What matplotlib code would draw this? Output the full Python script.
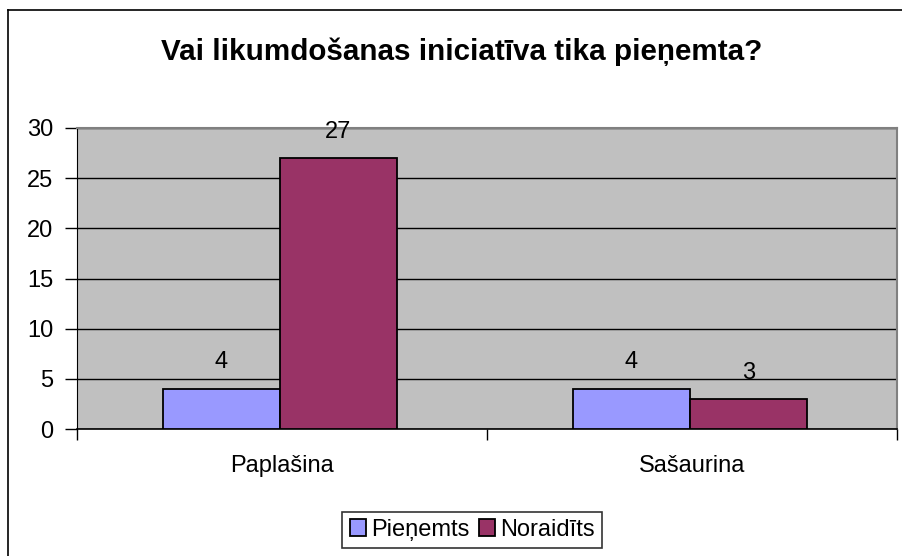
import matplotlib
matplotlib.use("Agg")
import matplotlib.pyplot as plt
from matplotlib.lines import Line2D
from matplotlib.patches import Patch
import numpy as np

plt.rcParams['font.family'] = ['Liberation Sans', 'DejaVu Sans']

title = "Vai likumdošanas iniciatīva tika pieņemta?"
categories = ["Paplašina", "Sašaurina"]
series_names = ["Pieņemts", "Noraidīts"]
pienemts = [4, 4]
noraidits = [27, 3]
colors = ["#9999FF", "#993366"]
yticks = [0, 5, 10, 15, 20, 25, 30]

W, H = 903, 556
fig = plt.figure(figsize=(W / 100, H / 100), dpi=100)
fig.patch.set_facecolor("white")

# outer chart border
fig.add_artist(Line2D([8 / W, 8 / W], [0, 1 - 10 / H], color="black", lw=1.2, transform=fig.transFigure))
fig.add_artist(Line2D([8 / W, 1], [1 - 10 / H, 1 - 10 / H], color="black", lw=1.2, transform=fig.transFigure))

left, right, top, bottom = 77, 897, 128, 429
ax = fig.add_axes([left / W, 1 - bottom / H, (right - left) / W, (bottom - top) / H])
ax.set_facecolor("#C0C0C0")

FS = 17
x = np.arange(len(categories))
w = 1 / 3.5
series = [pienemts, noraidits]
for i, (vals, c) in enumerate(zip(series, colors)):
    pos = x + (i - 0.5) * w - 0.005
    ax.bar(pos, vals, width=w, color=c, edgecolor="black", linewidth=1.3, zorder=3)
    for p, v in zip(pos, vals):
        ax.annotate(str(v), (p, v), xytext=(0, 19), textcoords="offset points",
                    ha="center", va="center", fontsize=FS, zorder=4)

ax.set_xlim(-0.5, 1.5)
ax.set_ylim(0, 30)
ax.set_yticks(yticks)
ax.set_yticklabels([str(t) for t in yticks], fontsize=FS)
ax.yaxis.grid(True, color="black", lw=1)
ax.set_axisbelow(True)

ax.set_xticks(x)
ax.set_xticklabels(categories, fontsize=FS)
ax.tick_params(axis="x", which="major", length=0, pad=19)
ax.set_xticks([-0.5, 0.5, 1.5], minor=True)
ax.tick_params(axis="x", which="minor", length=8, width=1, color="black")
ax.tick_params(axis="y", length=9, width=1, color="black", pad=8)

for s in ["top", "right"]:
    ax.spines[s].set_color("#808080")
    ax.spines[s].set_linewidth(1.5)
ax.spines["left"].set_color("black")
ax.spines["bottom"].set_color("black")
ax.spines["bottom"].set_linewidth(1.2)

fig.text(462 / W, 1 - 52 / H, title, ha="center", va="center", fontsize=21.3, fontweight="bold")

handles = [Patch(facecolor=c, edgecolor="black", linewidth=1.3) for c in colors]
leg = fig.legend(handles, series_names, loc="center", bbox_to_anchor=(472 / W, 1 - 530 / H),
                 ncol=2, fontsize=FS, frameon=True, fancybox=False, edgecolor="black",
                 handlelength=0.7, handleheight=0.7, handletextpad=0.2, columnspacing=0.4,
                 borderpad=0.3, borderaxespad=0)
leg.get_frame().set_linewidth(1.2)

fig.savefig("out.png", dpi=100)
